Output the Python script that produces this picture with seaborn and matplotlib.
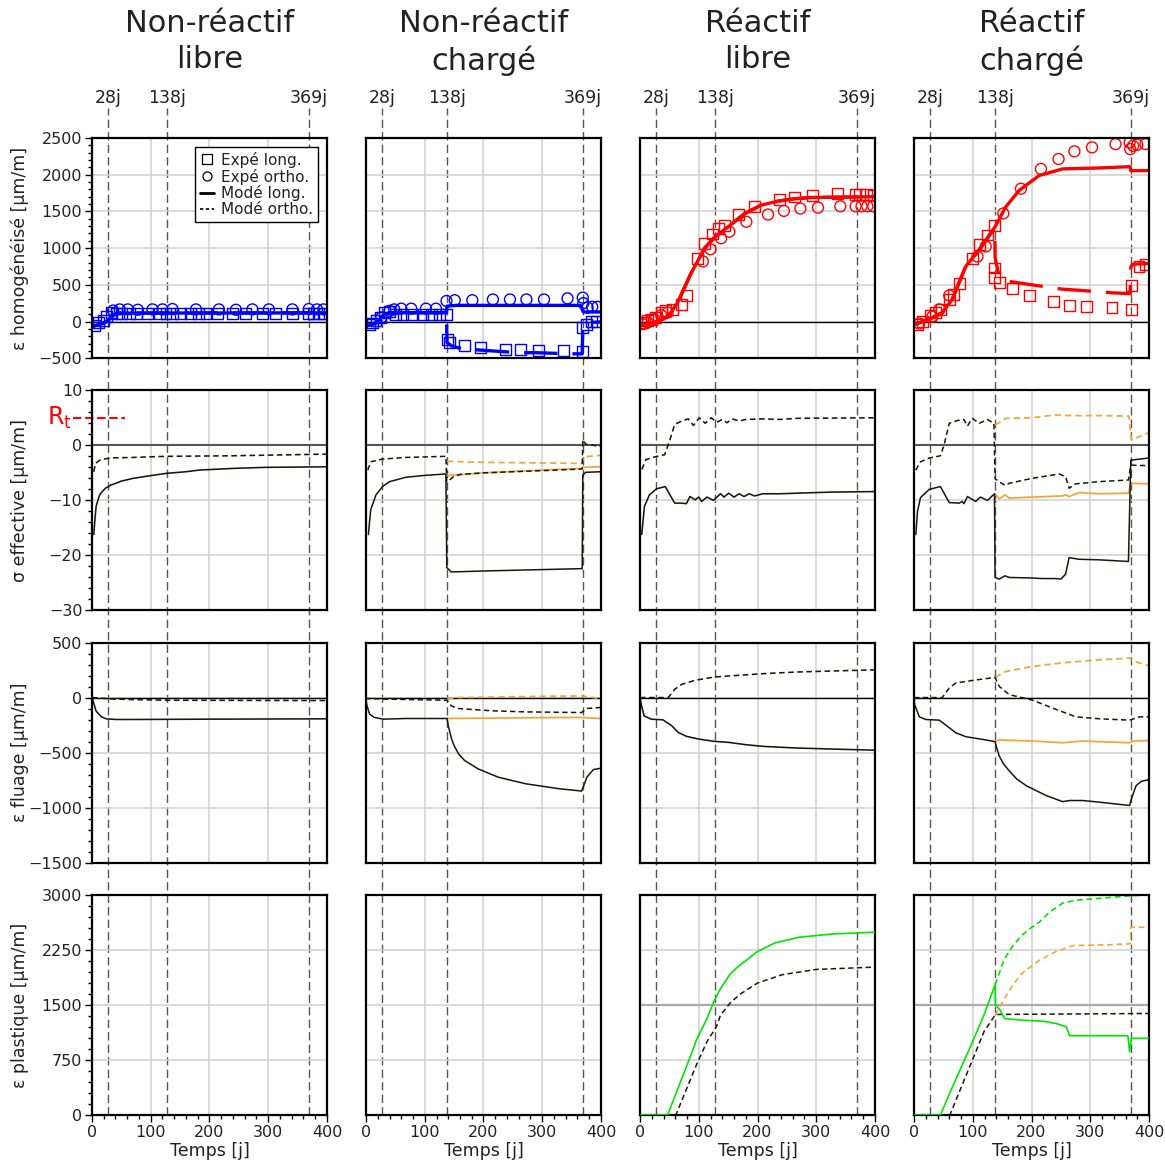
import matplotlib
matplotlib.use("Agg")
import matplotlib.pyplot as plt
import matplotlib.transforms as mtransforms
from matplotlib.lines import Line2D
from matplotlib.ticker import MultipleLocator
import seaborn as sns

# ------------------------------------------------------------------ DATA
column_titles = ["Non-réactif\nlibre", "Non-réactif\nchargé", "Réactif\nlibre", "Réactif\nchargé"]
row_labels = ["ε homogénéisé [μm/m]", "σ effective [μm/m]", "ε fluage [μm/m]", "ε plastique [μm/m]"]
event_labels = ["28j", "138j", "369j"]
event_days_libre = [28, 128, 369]
event_days_charge = [28, 138, 369]
load_day = 138
rt_value = 5
x_ticks = [0, 100, 200, 300, 400]
y_ticks_row1 = [-500, 0, 500, 1000, 1500, 2000, 2500]
y_ticks_row2 = [-30, -20, -10, 0, 10]
y_ticks_row3 = [-1500, -1000, -500, 0, 500]
y_ticks_row4 = [0, 750, 1500, 2250, 3000]
plastic_ref = 1500

# ---- Row 1 : ε homogénéisé
nrl_exp_long_t = [4, 11, 19, 25, 33, 41, 50, 64, 75, 95, 115, 126, 137, 151, 168, 182, 194, 213, 239, 262, 290, 312, 341, 369, 377, 386, 394]
nrl_exp_long_v = [-60, -15, 10, 65, 120, 110, 105, 110, 105, 110, 110, 105, 110, 110, 105, 110, 105, 110, 110, 105, 110, 110, 110, 115, 110, 110, 110]
nrl_exp_ortho_t = [36, 47, 61, 78, 103, 120, 137, 177, 216, 245, 273, 301, 341, 369, 383, 394]
nrl_exp_ortho_v = [150, 165, 165, 160, 165, 165, 170, 165, 165, 160, 165, 165, 165, 170, 165, 165]
nrl_mod_t = [0, 10, 20, 28, 33, 38, 45, 100, 400]
nrl_mod_long_v = [-70, -45, -20, 20, 60, 100, 115, 115, 118]
nrl_mod_ortho_v = [-70, -45, -20, 20, 60, 100, 115, 115, 118]

nrc_exp_long_t = [6, 11, 17, 24, 31, 40, 51, 63, 77, 97, 111, 125, 137, 138, 142, 168, 195, 237, 263, 293, 336, 369, 369, 375, 384, 393]
nrc_exp_long_v = [-35, -20, 10, 55, 120, 135, 100, 100, 100, 100, 100, 100, 100, -240, -285, -330, -350, -375, -385, -395, -395, -410, -80, -35, -5, -5]
nrc_exp_ortho_t = [26, 40, 48, 60, 77, 102, 119, 137, 151, 181, 216, 245, 273, 303, 343, 369, 370, 377, 385, 394]
nrc_exp_ortho_v = [55, 145, 165, 175, 175, 175, 175, 280, 290, 290, 300, 300, 300, 300, 315, 325, 250, 190, 200, 200]
nrc_mod_ortho_t = [0, 10, 20, 26, 33, 40, 61, 137, 138, 154, 365, 370, 400]
nrc_mod_ortho_v = [-60, -40, -10, 55, 100, 120, 120, 120, 210, 220, 220, 130, 130]
nrc_mod_long_t = [0, 10, 20, 26, 33, 40, 61, 137, 137.5, 138, 145, 155, 171, 205, 260, 290, 347, 368, 369, 375, 400]
nrc_mod_long_v = [-60, -40, -10, 55, 100, 120, 120, 120, -150, -285, -330, -355, -375, -395, -425, -425, -440, -440, -35, -15, -5]

rl_exp_long_t = [5, 13, 19, 27, 36, 44, 56, 70, 79, 98, 110, 124, 133, 144, 168, 195, 238, 263, 294, 336, 366, 374, 386, 397]
rl_exp_long_v = [-13, 9, 31, 54, 121, 144, 166, 234, 355, 864, 1057, 1192, 1269, 1314, 1462, 1570, 1665, 1696, 1719, 1741, 1728, 1728, 1728, 1719]
rl_exp_ortho_t = [5, 13, 24, 36, 47, 107, 120, 138, 152, 181, 218, 245, 273, 303, 341, 367, 377, 387, 397]
rl_exp_ortho_v = [-36, -13, 31, 85, 121, 819, 985, 1134, 1224, 1359, 1458, 1507, 1539, 1552, 1570, 1570, 1570, 1570, 1570]
rl_mod_t = [0, 23, 40, 47, 55, 64, 75, 87, 100, 110, 128, 150, 178, 206, 235, 260, 292, 349, 400]
rl_mod_long_v = [-60, -15, 40, 70, 150, 255, 450, 660, 850, 1000, 1155, 1290, 1470, 1585, 1640, 1670, 1690, 1695, 1700]
rl_mod_ortho_v = [-60, -15, 40, 70, 150, 255, 450, 660, 850, 1000, 1155, 1290, 1470, 1585, 1640, 1670, 1690, 1695, 1700]

rc_exp_long_t = [6, 14, 28, 37, 46, 60, 68, 77, 100, 111, 125, 137, 137, 137, 145, 168, 196, 238, 265, 294, 337, 371, 371, 383, 394]
rc_exp_long_v = [-36, -5, 77, 122, 167, 302, 369, 518, 864, 1044, 1179, 1314, 729, 594, 536, 450, 356, 279, 221, 203, 189, 167, 495, 752, 774]
rc_exp_ortho_t = [9, 31, 43, 60, 108, 122, 152, 182, 216, 246, 273, 303, 343, 367, 368, 373, 380, 394]
rc_exp_ortho_v = [-27, 67, 166, 355, 886, 1022, 1472, 1809, 2079, 2214, 2318, 2372, 2417, 2439, 2349, 2394, 2408, 2417]
rc_mod_ortho_t = [0, 28, 48, 65, 88, 111, 138, 156, 179, 213, 253, 316, 368, 369, 400]
rc_mod_ortho_v = [-45, 40, 121, 301, 751, 976, 1291, 1561, 1786, 1989, 2079, 2092, 2110, 2056, 2056]
rc_mod_long_t = [0, 28, 48, 65, 88, 111, 137.5, 138, 145, 155, 171, 196, 253, 282, 340, 368, 369, 372, 400]
rc_mod_long_v = [-45, 40, 121, 301, 751, 976, 1280, 870, 600, 560, 535, 505, 440, 425, 390, 380, 740, 780, 790]

# ---- Row 2 : σ effective
nrl_sig_long_t = [3, 5, 7, 10, 13, 18, 24, 28, 32, 38, 50, 70, 100, 126, 160, 182, 239, 296, 350, 400]
nrl_sig_long_v = [-16.2, -13.5, -11.1, -10, -9, -8.3, -7.7, -7.5, -7.2, -7, -6.5, -6, -5.5, -5.1, -4.8, -4.5, -4.2, -4.0, -3.95, -3.9]
nrl_sig_ortho_t = [3, 6, 13, 30, 70, 126, 239, 400]
nrl_sig_ortho_v = [-4.8, -3.3, -2.7, -2.3, -2.2, -2.0, -1.9, -1.6]

nrc_sig_long_t = [4, 8, 17, 28, 40, 68, 96, 136, 137.5, 145, 210, 368, 369, 374, 400]
nrc_sig_long_v = [-16.2, -11.7, -9, -7.5, -6.6, -5.8, -5.5, -5.2, -22.2, -23, -22.8, -22.4, -5.4, -4.9, -4.8]
nrc_sig_ortho_t = [3, 8, 28, 68, 136, 137.5, 139, 150, 160, 200, 300, 368, 369, 374, 400]
nrc_sig_ortho_v = [-4.5, -3, -2.5, -2.2, -2.0, -6.6, -6.6, -5.6, -5.3, -5.0, -4.6, -4.3, 1.0, 0.2, -0.2]
nrc_sig_long_b_t = [138, 200, 300, 368, 369, 400]
nrc_sig_long_b_v = [-5.5, -5.0, -4.5, -4.2, -4.0, -3.9]
nrc_sig_ortho_b_t = [138, 200, 300, 367, 371, 400]
nrc_sig_ortho_b_v = [-2.9, -3.1, -3.2, -3.3, -2.1, -1.8]

rl_sig_long_t = [3, 7.5, 16, 28, 43, 59, 71, 79, 85, 94, 100, 105, 114, 125, 137, 143, 151, 160, 169, 177, 186, 195, 209, 238, 266, 324, 400]
rl_sig_long_v = [-16.2, -11.1, -9, -7.9, -7.5, -10.5, -10.5, -10.6, -9.3, -9.9, -9.4, -10.2, -9.4, -10, -8.8, -9.4, -8.7, -9.4, -8.8, -9.3, -8.8, -9.2, -8.8, -8.8, -8.7, -8.5, -8.4]
rl_sig_ortho_t = [3, 10, 25, 42, 51, 59, 71, 82, 91, 101, 111, 121, 131, 140, 148, 157, 169, 180, 209, 238, 266, 400]
rl_sig_ortho_v = [-4.4, -2.6, -2.1, -1.7, 1.0, 3.8, 4.4, 4.8, 3.6, 5.0, 4.0, 5.0, 4.2, 4.7, 4.1, 4.8, 4.4, 4.7, 4.8, 4.7, 4.9, 5.0]

rc_sig_long_t = [3, 6, 11, 26, 45, 60, 77, 82, 85, 91, 105, 113, 125, 137, 138, 145, 155, 162, 201, 218, 241, 250, 258, 264, 281, 315, 365, 369, 400]
rc_sig_long_v = [-16.2, -12, -9.5, -8, -7.5, -10.4, -10.5, -10.2, -10.6, -9.3, -10.2, -9.4, -10, -8.8, -24, -24.3, -23.7, -24, -24.1, -24.2, -24.2, -24.3, -23.4, -20.4, -20.7, -20.8, -21.1, -2.7, -2.3]
rc_sig_ortho_t = [3, 11, 26, 45, 51, 60, 74, 85, 91, 99, 111, 125, 136, 138, 155, 162, 201, 247, 258, 264, 275, 315, 365, 369, 400]
rc_sig_ortho_v = [-4.5, -3, -2.3, -1.9, 0, 4, 4.5, 4.7, 3.5, 4.9, 4, 4.7, 4, -6.1, -7.3, -6.9, -6, -5.2, -5.7, -7.8, -7.0, -6.6, -6.3, -3.6, -3.7]
rc_sig_long_b_t = [138, 145, 155, 162, 201, 252, 258, 264, 281, 315, 365, 369, 400]
rc_sig_long_b_v = [-8.8, -9.7, -9.0, -9.6, -9.4, -9.2, -9.0, -9.3, -8.6, -8.8, -8.7, -6.9, -7.0]
rc_sig_ortho_b_t = [138, 145, 156, 201, 238, 270, 315, 366, 370, 400]
rc_sig_ortho_b_v = [3.7, 4.1, 4.9, 5.0, 5.5, 5.4, 5.4, 5.3, 1.0, 2.3]

# ---- Row 3 : ε fluage
nrl_flu_long_t = [0, 2, 7, 16, 24, 41, 70, 200, 400]
nrl_flu_long_v = [0, -33, -123, -175, -193, -199, -199, -196, -193]
nrl_flu_ortho_t = [0, 2, 30, 70, 126, 400]
nrl_flu_ortho_v = [0, 0, -12, -18, -24, -27]

nrc_flu_long_t = [0, 1, 6, 14, 29, 69, 138, 140, 143, 146, 150, 158, 168, 191, 225, 272, 329, 367, 372, 376, 387, 399]
nrc_flu_long_v = [0, -60, -150, -180, -196, -190, -190, -256, -320, -380, -437, -515, -572, -648, -723, -783, -828, -849, -780, -723, -654, -642]
nrc_flu_ortho_t = [0, 1, 40, 138, 145, 156, 214, 272, 367, 376, 399]
nrc_flu_ortho_v = [0, -9, -15, -24, -75, -99, -120, -130, -136, -99, -90]
nrc_flu_long_b_t = [138, 329, 367, 399]
nrc_flu_long_b_v = [-190, -181, -181, -190]
nrc_flu_ortho_b_t = [138, 156, 272, 367, 399]
nrc_flu_ortho_b_v = [-15, 0, 9, 15, -9]

rl_flu_long_t = [0, 2, 7, 19, 39, 54, 65, 79, 100, 127, 151, 180, 209, 266, 324, 400]
rl_flu_long_v = [0, -60, -166, -196, -202, -256, -316, -352, -377, -398, -407, -428, -443, -458, -467, -478]
rl_flu_ortho_t = [0, 48, 59, 71, 94, 127, 151, 209, 266, 324, 400]
rl_flu_ortho_v = [0, 0, 75, 120, 157, 187, 196, 217, 232, 241, 252]

rc_flu_long_t = [0, 1, 9, 20, 43, 60, 71, 88, 117, 138, 141, 145, 152, 162, 175, 191, 225, 253, 265, 287, 316, 367, 370, 378, 387, 400]
rc_flu_long_v = [0, -63, -175, -199, -205, -274, -319, -355, -380, -400, -460, -530, -600, -665, -740, -800, -890, -945, -935, -935, -950, -980, -920, -800, -760, -745]
rc_flu_ortho_t = [0, 48, 60, 71, 100, 138, 145, 162, 202, 242, 276, 316, 367, 384, 400]
rc_flu_ortho_v = [0, 0, 87, 132, 156, 183, 102, 27, -24, -108, -175, -193, -205, -175, -175]
rc_flu_long_b_t = [138, 145, 202, 253, 287, 367, 373, 400]
rc_flu_long_b_v = [-400, -385, -395, -410, -395, -410, -395, -390]
rc_flu_ortho_b_t = [138, 156, 202, 259, 316, 367, 375, 400]
rc_flu_ortho_b_v = [183, 237, 283, 319, 343, 358, 328, 289]

# ---- Row 4 : ε plastique
rl_pla_long_t = [0, 47, 67, 90, 96, 114, 126, 137, 154, 166, 200, 230, 271, 329, 400]
rl_pla_long_v = [0, 0, 411, 886, 1021, 1315, 1550, 1722, 1925, 2015, 2228, 2345, 2422, 2467, 2490]
rl_pla_ortho_t = [0, 61, 96, 114, 130, 137, 154, 172, 200, 242, 300, 400]
rl_pla_ortho_v = [0, 0, 682, 999, 1202, 1360, 1532, 1654, 1798, 1911, 1983, 2015]

rc_pla_long_t = [0, 45, 67, 96, 119, 138, 138.5, 146, 154, 183, 218, 242, 259, 265, 300, 364, 367, 370, 400]
rc_pla_long_v = [0, 0, 411, 931, 1360, 1776, 1496, 1437, 1315, 1292, 1279, 1247, 1202, 1080, 1080, 1080, 863, 1044, 1044]
rc_pla_ortho_t = [0, 61, 96, 119, 138, 143, 400]
rc_pla_ortho_v = [0, 0, 682, 1134, 1360, 1370, 1383]
rc_pla_long_b_t = [138, 154, 168, 183, 198, 213, 230, 253, 275, 300, 368, 400]
rc_pla_long_b_v = [1776, 2128, 2300, 2444, 2545, 2625, 2760, 2887, 2925, 2941, 2986, 3000]
rc_pla_ortho_b_t = [138, 154, 168, 183, 213, 242, 271, 329, 368, 369, 400]
rc_pla_ortho_b_v = [1360, 1586, 1770, 1925, 2106, 2228, 2309, 2318, 2332, 2558, 2558]

# ------------------------------------------------------------------ STYLE
BLUE = "#0000ff"
RED = "#ff0000"
ORANGE = "#f2a73a"
GREEN = "#00e600"
DARK = "#1c1608"
DASH = (0, (3.5, 2.2))
LONGDASH = (0, (10, 4.5))

sns.set_theme(style="white")
plt.rcParams["font.family"] = ["DejaVu Sans"]


def draw_line(ax, t, v, color, lw=1.1, ls="-", z=3):
    sns.lineplot(x=list(t), y=list(v), ax=ax, color=color, linewidth=lw,
                 linestyle=ls, sort=False, estimator=None, legend=False, zorder=z)


def draw_points(ax, t, v, marker, color):
    sns.scatterplot(x=list(t), y=list(v), ax=ax, marker=marker, s=62, color=color,
                    facecolor="none", edgecolor=color, linewidth=1.0, legend=False, zorder=4)


fig, axes = plt.subplots(4, 4, figsize=(11.65, 11.71), dpi=100)
fig.subplots_adjust(left=92 / 1165, right=1149 / 1165, top=1 - 138 / 1171,
                    bottom=1 - 1115 / 1171, wspace=0.166, hspace=0.1455)

ylims = [(-500, 2500), (-30, 10), (-1500, 500), (0, 3000)]
yticks = [y_ticks_row1, y_ticks_row2, y_ticks_row3, y_ticks_row4]
yminor = [100, 2, 100, 150]

# ---------------- Row 1
exp_sets = [
    (nrl_exp_long_t, nrl_exp_long_v, nrl_exp_ortho_t, nrl_exp_ortho_v, BLUE),
    (nrc_exp_long_t, nrc_exp_long_v, nrc_exp_ortho_t, nrc_exp_ortho_v, BLUE),
    (rl_exp_long_t, rl_exp_long_v, rl_exp_ortho_t, rl_exp_ortho_v, RED),
    (rc_exp_long_t, rc_exp_long_v, rc_exp_ortho_t, rc_exp_ortho_v, RED),
]
mod_sets = [
    (nrl_mod_t, nrl_mod_long_v, nrl_mod_t, nrl_mod_ortho_v),
    (nrc_mod_long_t, nrc_mod_long_v, nrc_mod_ortho_t, nrc_mod_ortho_v),
    (rl_mod_t, rl_mod_long_v, rl_mod_t, rl_mod_ortho_v),
    (rc_mod_long_t, rc_mod_long_v, rc_mod_ortho_t, rc_mod_ortho_v),
]
for c in range(4):
    ax = axes[0, c]
    ax.axhline(0, color="black", lw=1.0, zorder=2)
    lt, lv, ot, ov = mod_sets[c]
    col = exp_sets[c][4]
    draw_line(ax, lt, lv, col, lw=2.4, ls=LONGDASH, z=3)
    draw_line(ax, ot, ov, col, lw=2.4, ls="-", z=3)
    et, ev, eot, eov, col = exp_sets[c]
    draw_points(ax, et, ev, "s", col)
    draw_points(ax, eot, eov, "o", col)

# ---------------- Rows 2 & 3
libre_rows = {
    1: [(nrl_sig_long_t, nrl_sig_long_v, nrl_sig_ortho_t, nrl_sig_ortho_v),
        (rl_sig_long_t, rl_sig_long_v, rl_sig_ortho_t, rl_sig_ortho_v)],
    2: [(nrl_flu_long_t, nrl_flu_long_v, nrl_flu_ortho_t, nrl_flu_ortho_v),
        (rl_flu_long_t, rl_flu_long_v, rl_flu_ortho_t, rl_flu_ortho_v)],
}
charge_rows = {
    1: [(nrc_sig_long_t, nrc_sig_long_v, nrc_sig_ortho_t, nrc_sig_ortho_v,
         nrc_sig_long_b_t, nrc_sig_long_b_v, nrc_sig_ortho_b_t, nrc_sig_ortho_b_v),
        (rc_sig_long_t, rc_sig_long_v, rc_sig_ortho_t, rc_sig_ortho_v,
         rc_sig_long_b_t, rc_sig_long_b_v, rc_sig_ortho_b_t, rc_sig_ortho_b_v)],
    2: [(nrc_flu_long_t, nrc_flu_long_v, nrc_flu_ortho_t, nrc_flu_ortho_v,
         nrc_flu_long_b_t, nrc_flu_long_b_v, nrc_flu_ortho_b_t, nrc_flu_ortho_b_v),
        (rc_flu_long_t, rc_flu_long_v, rc_flu_ortho_t, rc_flu_ortho_v,
         rc_flu_long_b_t, rc_flu_long_b_v, rc_flu_ortho_b_t, rc_flu_ortho_b_v)],
}
for r in (1, 2):
    zero_col = "#555555" if r == 1 else "black"
    zero_lw = 1.5 if r == 1 else 1.0
    for k, c in enumerate((0, 2)):
        ax = axes[r, c]
        ax.axhline(0, color=zero_col, lw=zero_lw, zorder=2)
        lt, lv, ot, ov = libre_rows[r][k]
        draw_line(ax, lt, lv, DARK, lw=1.15, z=4)
        draw_line(ax, ot, ov, DARK, lw=1.15, ls=DASH, z=4)
    for k, c in enumerate((1, 3)):
        ax = axes[r, c]
        ax.axhline(0, color=zero_col, lw=zero_lw, zorder=2)
        lt, lv, ot, ov, lbt, lbv, obt, obv = charge_rows[r][k]
        draw_line(ax, lbt, lbv, ORANGE, lw=1.3, z=3)
        draw_line(ax, obt, obv, ORANGE, lw=1.3, ls=DASH, z=3)
        draw_line(ax, lt, lv, DARK, lw=1.1, z=4)
        draw_line(ax, ot, ov, DARK, lw=1.1, ls=DASH, z=4)

# ---------------- Row 4
ax = axes[3, 2]
ax.axhline(plastic_ref, color="#aaaaaa", lw=1.6, zorder=1.5)
draw_line(ax, rl_pla_ortho_t, rl_pla_ortho_v, DARK, lw=1.1, ls=DASH, z=3)
draw_line(ax, rl_pla_long_t, rl_pla_long_v, GREEN, lw=1.2, z=7)

ax = axes[3, 3]
ax.axhline(plastic_ref, color="#aaaaaa", lw=1.6, zorder=1.5)
draw_line(ax, rc_pla_ortho_b_t, rc_pla_ortho_b_v, ORANGE, lw=1.2, ls=DASH, z=3)
draw_line(ax, rc_pla_long_b_t, rc_pla_long_b_v, GREEN, lw=1.2, ls=DASH, z=3)
draw_line(ax, rc_pla_ortho_t, rc_pla_ortho_v, DARK, lw=1.1, ls=DASH, z=4)
draw_line(ax, rc_pla_long_t, rc_pla_long_v, GREEN, lw=1.2, z=7)

# ---------------- Axes formatting
for r in range(4):
    for c in range(4):
        ax = axes[r, c]
        ax.set_facecolor("none")
        ax.set_xlim(0, 400)
        ax.set_ylim(*ylims[r])
        ax.set_xticks(x_ticks)
        ax.set_yticks(yticks[r])
        ax.xaxis.set_minor_locator(MultipleLocator(20))
        ax.yaxis.set_minor_locator(MultipleLocator(yminor[r]))
        ax.set_axisbelow(True)
        ax.grid(True, which="major", color="#d0d0d0", lw=1.1)
        for sp in ax.spines.values():
            sp.set_visible(True)
            sp.set_color("black")
            sp.set_linewidth(1.6)
            sp.set_zorder(6)
        ax.tick_params(axis="both", which="both", direction="out", color="black",
                       width=1.0, labelsize=11.5, labelcolor="#222222", pad=2)
        ax.tick_params(which="major", length=5)
        ax.tick_params(which="minor", length=3)
        ax.tick_params(axis="y", which="both", left=(c == 0), labelleft=(c == 0), right=False)
        ax.tick_params(axis="x", which="both", bottom=(r == 3), labelbottom=(r == 3), top=False)
        ax.set_xlabel("Temps [j]" if r == 3 else "", fontsize=12.5, color="#222222", labelpad=2)
        if c == 0:
            ax.set_ylabel(row_labels[r], fontsize=12.5, color="#222222")
            ax.yaxis.set_label_coords(-0.27, 0.5)
        else:
            ax.set_ylabel("")

# ---------------- Event lines, labels, titles
fig_bottom = axes[3, 0].get_position().y0
line_top = 1 - 108 / 1171
for c in range(4):
    ax = axes[0, c]
    days = event_days_libre if c in (0, 2) else event_days_charge
    trans_fig = mtransforms.blended_transform_factory(ax.transData, fig.transFigure)
    trans_ax = mtransforms.blended_transform_factory(ax.transData, ax.transAxes)
    for d, lab in zip(days, event_labels):
        fig.add_artist(Line2D([d, d], [fig_bottom, line_top], transform=trans_fig,
                              color="#555555", lw=1.0, ls=(0, (6, 3)), zorder=-1))
        ax.text(d, 1.18, lab, transform=trans_ax, ha="center", va="center",
                fontsize=12.5, color="#222222")
    pos = ax.get_position()
    fig.text((pos.x0 + pos.x1) / 2, 1 - 9 / 1171, column_titles[c], ha="center", va="top",
             fontsize=22, color="#222222", linespacing=1.3)

# ---------------- Rt annotation
ax = axes[1, 0]
trans_rt = mtransforms.blended_transform_factory(ax.transAxes, ax.transData)
ax.plot([-0.08, 0.14], [rt_value, rt_value], transform=trans_rt, color=RED, lw=1.5,
        ls=(0, (4, 1.8)), clip_on=False, zorder=5)
ax.text(-0.086, rt_value, r"$\mathregular{R_t}$", transform=trans_rt, color=RED,
        fontsize=17, ha="right", va="center")

# ---------------- Legend
handles = [
    Line2D([], [], marker="s", ls="none", mfc="none", mec="black", ms=6.5, mew=0.9),
    Line2D([], [], marker="o", ls="none", mfc="none", mec="black", ms=6.5, mew=0.9),
    Line2D([], [], color="black", lw=2.0),
    Line2D([], [], color="black", lw=1.2, ls=(0, (2, 1.5))),
]
leg = axes[0, 0].legend(handles, ["Expé long.", "Expé ortho.", "Modé long.", "Modé ortho."],
                        loc="upper right", fontsize=11, frameon=True, fancybox=False,
                        edgecolor="black", framealpha=1, handlelength=0.9,
                        handletextpad=0.5, labelspacing=0.05, borderpad=0.3,
                        borderaxespad=0.6)
leg.get_frame().set_linewidth(1.0)
for t in leg.get_texts():
    t.set_color("#222222")

fig.savefig("out.png", dpi=100)
